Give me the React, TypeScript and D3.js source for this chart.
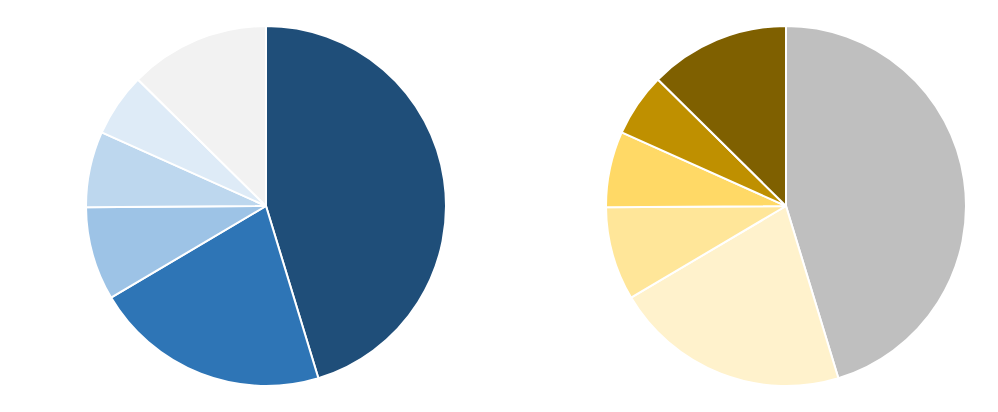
import React from "react";
import * as d3 from "d3";

const categories = ["A", "B", "C", "D", "E", "F"];
const leftValues = [45.3, 21.2, 8.4, 6.8, 5.7, 12.6];
const rightValues = [45.3, 21.2, 8.4, 6.8, 5.7, 12.6];
const leftColors = ["#1f4e79", "#2e75b6", "#9dc3e6", "#bdd7ee", "#deebf7", "#f2f2f2"];
const rightColors = ["#bfbfbf", "#fff2cc", "#ffe699", "#ffd966", "#bf9000", "#7f6000"];

const W = 998;
const H = 412;
const R = 180;

function Pie({ cx, cy, values, colors }: { cx: number; cy: number; values: number[]; colors: string[] }) {
  const pie = d3.pie<number>().sort(null).value((d) => d);
  const arc = d3.arc<d3.PieArcDatum<number>>().innerRadius(0).outerRadius(R);
  const arcs = pie(values);
  return (
    <g transform={`translate(${cx},${cy})`}>
      {arcs.map((a, i) => (
        <path key={categories[i]} d={arc(a) || ""} fill={colors[i]} stroke="#ffffff" strokeWidth={2} strokeLinejoin="round" />
      ))}
    </g>
  );
}

export default function App() {
  return (
    <svg width={W} height={H} style={{ position: "absolute", left: 0, top: 0, background: "#fff" }}>
      <rect width={W} height={H} fill="#ffffff" />
      <Pie cx={266} cy={206} values={leftValues} colors={leftColors} />
      <Pie cx={786} cy={206} values={rightValues} colors={rightColors} />
    </svg>
  );
}
